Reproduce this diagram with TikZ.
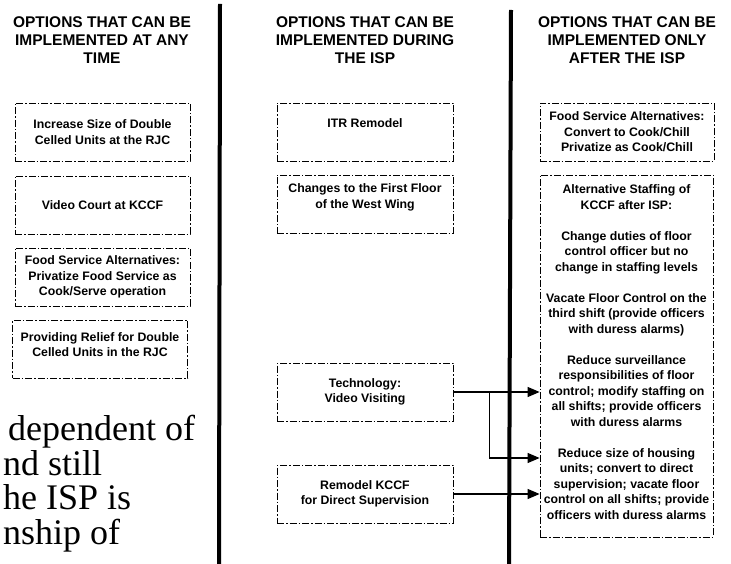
\documentclass[tikz,border=0pt]{standalone}
\usepackage{fontspec}
\setmainfont{Liberation Serif}
\newfontfamily\arialfont{Liberation Sans}
\usepackage{tikz}
\usetikzlibrary{arrows.meta,positioning}

\newcommand{\boxfont}{\arialfont\bfseries\fontsize{12.3}{15.5}\selectfont}
\newcommand{\headfont}{\arialfont\bfseries\fontsize{15.5}{18}\selectfont}

\begin{document}
\begin{tikzpicture}[x=1pt, y=-1pt,
        optbox/.style={draw, dash pattern=on 7pt off 2pt on 1.5pt off 2pt, line width=0.8pt,
            minimum width=175pt, minimum height=58pt, align=center, inner sep=2pt, font=\boxfont},
        colhead/.style={align=center, inner sep=0pt, font=\headfont},
        divider/.style={line width=4pt},
        feed/.style={draw, line width=1.2pt, -{Triangle[length=12pt, width=10pt]}}]
        \clip (0,0) rectangle (731,564);

        % Column headings and dividers
        \node [colhead] (anytime) at (102,40) {OPTIONS THAT CAN BE\\IMPLEMENTED AT ANY\\TIME};
        \node [colhead] (during) at (365,40) {OPTIONS THAT CAN BE\\IMPLEMENTED DURING\\THE ISP};
        \node [colhead] (after) at (627,40) {OPTIONS THAT CAN BE\\IMPLEMENTED ONLY\\AFTER THE ISP};
        \draw [divider] (220,4) -- (219,564);
        \draw [divider] (511,10) -- (509,564);

        % Place nodes
        \node [optbox] (enlarge) at (102.5,132) {Increase Size of Double\\Celled Units at the RJC};
        \node [optbox] (court) at (102.5,205) {Video Court at KCCF};
        \node [optbox] (privatize) at (102.5,277) {Food Service Alternatives:\\Privatize Food Service as\\Cook/Serve operation};
        \node [optbox, text depth=9pt] (relief) at (100,349) {Providing Relief for Double\\Celled Units in the RJC};

        \node [optbox, minimum width=176pt, text depth=18pt] (itr) at (365,132) {ITR Remodel};
        \node [optbox, minimum width=176pt, text depth=16pt] (westwing) at (365,204) {Changes to the First Floor\\of the West Wing};
        \node [optbox, minimum width=176pt] (tech) at (365,392) {Technology:\\Video Visiting};
        \node [optbox, minimum width=176pt] (remodel) at (365,494) {Remodel KCCF\\for Direct Supervision};

        \node [optbox, minimum width=174pt] (cookchill) at (627,132) {Food Service Alternatives:\\Convert to Cook/Chill\\Privatize as Cook/Chill};
        \node [optbox, minimum width=173pt, minimum height=362pt] (staff) at (626.5,356) {};
        \node [anchor=north, align=center, inner sep=0pt, font=\boxfont] (stafftext) at ([yshift=-10pt]staff.north)
            {Alternative Staffing of\\KCCF after ISP:\\[15.5pt]
            Change duties of floor\\control officer but no\\change in staffing levels\\[15.5pt]
            Vacate Floor Control on the\\third shift (provide officers\\with duress alarms)\\[15.5pt]
            Reduce surveillance\\responsibilities of floor\\control; modify staffing on\\all shifts; provide officers\\with duress alarms\\[15.5pt]
            Reduce size of housing\\units; convert to direct\\supervision; vacate floor\\control on all shifts; provide\\officers with duress alarms};

        \node [anchor=north west, align=left, inner sep=0pt, font=\fontsize{36}{34.5}\selectfont] (body) at (3,415)
            {\hspace*{5pt}dependent of\\nd still\\he ISP is\\nship of};

        % Draw edges
        \coordinate (split) at ([xshift=36pt]tech.east);
        \coordinate (units) at (staff.west |- 0,458);
        \draw [feed] (tech.east) -- (tech.east -| staff.west);
        \draw [feed] (split) |- (units);
        \draw [feed] (remodel.east) -- (remodel.east -| staff.west);
\end{tikzpicture}
\end{document}
